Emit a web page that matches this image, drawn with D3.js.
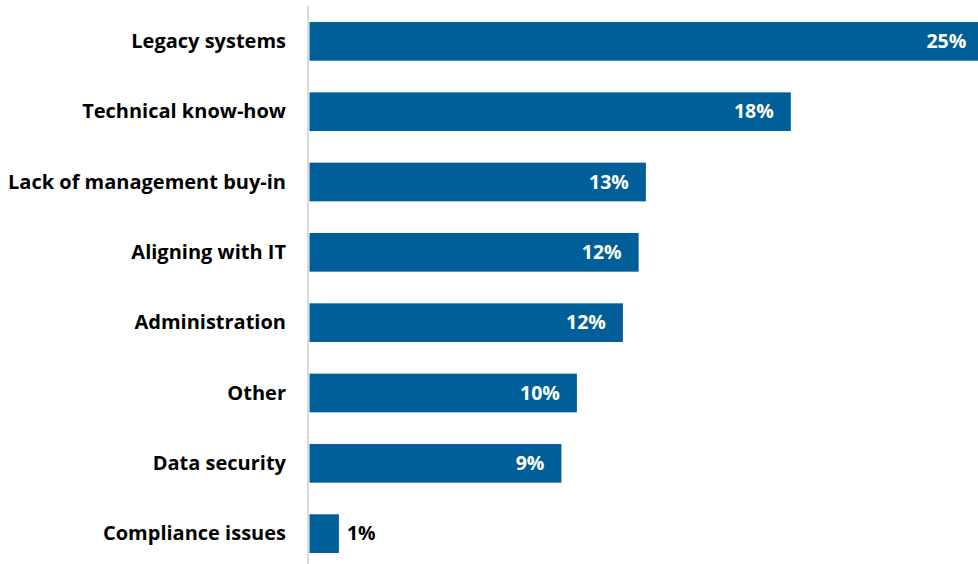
<!DOCTYPE html>
<html><head><meta charset="utf-8">
<script src="https://cdn.jsdelivr.net/npm/d3@7"></script>
<style>body{margin:0;background:#fff}svg{display:block}</style>
</head><body>
<script>
const categories = ["Legacy systems","Technical know-how","Lack of management buy-in","Aligning with IT","Administration","Other","Data security","Compliance issues"];
const values = [25.2, 18.0, 12.58, 12.31, 11.72, 10.0, 9.42, 1.1];
const valueLabels = ["25%","18%","13%","12%","12%","10%","9%","1%"];

const W = 978, H = 564;
const svg = d3.select("body").append("svg").attr("width", W).attr("height", H);
const x = d3.scaleLinear().domain([0, 25]).range([309.5, 978]);
const y = d3.scaleBand().domain(categories).range([6.2, 568.8]).paddingInner(0.45).paddingOuter(0.225);
const font = "'Open Sans', Lato, sans-serif";

svg.append("g").selectAll("rect").data(categories).join("rect")
  .attr("x", x(0)).attr("y", d => y(d))
  .attr("width", (d,i) => x(values[i]) - x(0))
  .attr("height", y.bandwidth())
  .attr("fill", "#005f98");

svg.append("line").attr("x1", 308).attr("x2", 308).attr("y1", 6).attr("y2", H)
  .attr("stroke", "#d9d9d9").attr("stroke-width", 2);

svg.append("g").selectAll("text").data(categories).join("text")
  .attr("x", 286).attr("y", d => y(d) + y.bandwidth()/2)
  .attr("dy", "0.33em").attr("text-anchor", "end")
  .attr("font-family", font).attr("font-weight", "bold").attr("font-size", 20)
  .attr("fill", "#000").text(d => d);

svg.append("g").selectAll("text").data(categories).join("text")
  .attr("x", (d,i) => values[i] < 3 ? x(values[i]) + 8 : x(values[i]) - 17)
  .attr("y", d => y(d) + y.bandwidth()/2)
  .attr("dy", "0.34em")
  .attr("text-anchor", (d,i) => values[i] < 3 ? "start" : "end")
  .attr("font-family", font).attr("font-weight", "bold").attr("font-size", 19.5)
  .attr("fill", (d,i) => values[i] < 3 ? "#000" : "#fff")
  .text((d,i) => valueLabels[i]);
</script>
</body></html>
